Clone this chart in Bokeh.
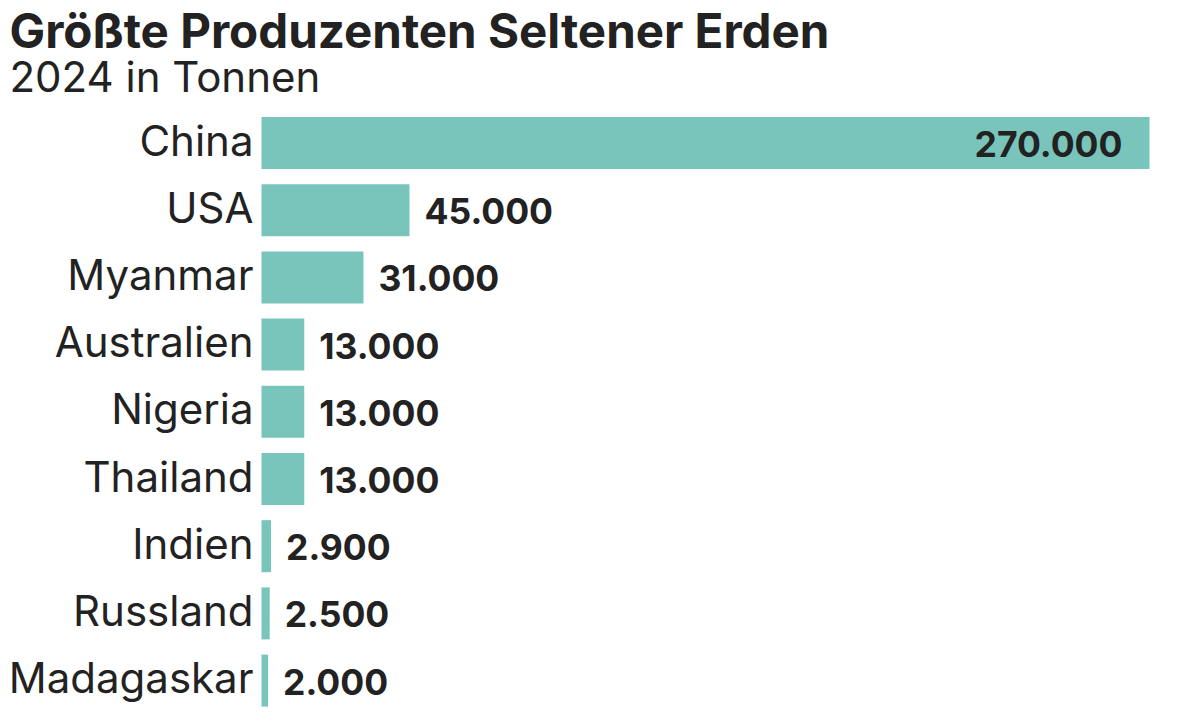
from bokeh.plotting import figure
from bokeh.models import Range1d, ColumnDataSource
from bokeh.core.properties import value
from bokeh.embed import file_html
from bokeh.resources import INLINE

# ---- data ----
countries = ["China", "USA", "Myanmar", "Australien", "Nigeria", "Thailand",
             "Indien", "Russland", "Madagaskar"]
tonnes = [270000, 45000, 31000, 13000, 13000, 13000, 2900, 2500, 2000]
title_text = "Größte Produzenten Seltener Erden"
subtitle_text = "2024 in Tonnen"

# ---- layout (pixels inside the figure) ----
W, H = 1184, 709
BAR_X0 = 261.0          # pixel where value 0 sits
BAR_XMAX = 1149.0       # pixel where the largest value ends
ROW0 = 142.5            # pixel centre of first row
ROW_STEP = 67.2         # pixel distance between rows
BAR_H = 52.0

vmax = max(tonnes)
k = (BAR_XMAX - BAR_X0) / vmax
x_start = -BAR_X0 / k
x_end = (W - BAR_X0) / k
y_top = -ROW0 / ROW_STEP
y_bottom = (H - ROW0) / ROW_STEP


def px_x(px):
    return x_start + px / k


def px_y(py):
    return (py - ROW0) / ROW_STEP


def fmt(v):
    return f"{v:,}".replace(",", ".")


idx = list(range(len(countries)))
labels = [fmt(v) for v in tonnes]
inside = [v > 0.5 * vmax for v in tonnes]

src = ColumnDataSource(dict(y=idx, v=tonnes, name=countries, lab=labels))
src_in = ColumnDataSource(dict(
    y=[i for i, f in zip(idx, inside) if f],
    v=[t for t, f in zip(tonnes, inside) if f],
    lab=[l for l, f in zip(labels, inside) if f]))
src_out = ColumnDataSource(dict(
    y=[i for i, f in zip(idx, inside) if not f],
    v=[t for t, f in zip(tonnes, inside) if not f],
    lab=[l for l, f in zip(labels, inside) if not f]))

p = figure(width=W, height=H, output_backend="svg", toolbar_location=None,
           x_range=Range1d(x_start, x_end), y_range=Range1d(y_bottom, y_top),
           x_axis_location=None, y_axis_location=None, min_border=0,
           background_fill_color="white", border_fill_color="white")
p.outline_line_color = None
p.xgrid.visible = False
p.ygrid.visible = False

TXT = "#222222"
FONT = value("Inter")

p.hbar(y="y", left=0, right="v", height=BAR_H / ROW_STEP, source=src,
       fill_color="#79c4bb", line_color=None)

p.text(x=0, y="y", text="name", source=src, x_offset=-8, y_offset=-3,
       text_align="right", text_baseline="middle", text_font=FONT,
       text_font_size="42px", text_color=TXT)

p.text(x="v", y="y", text="lab", source=src_out, x_offset=15, y_offset=1,
       text_align="left", text_baseline="middle", text_font=FONT,
       text_font_style="bold", text_font_size="35.5px", text_color=TXT)
p.text(x="v", y="y", text="lab", source=src_in, x_offset=-27, y_offset=1,
       text_align="right", text_baseline="middle", text_font=FONT,
       text_font_style="bold", text_font_size="35.5px", text_color=TXT)

p.text(x=[px_x(9)], y=[px_y(30)], text=[title_text], text_align="left",
       text_baseline="alphabetic", text_font=FONT, text_font_style="bold",
       text_font_size="47.5px", text_color=TXT)
p.text(x=[px_x(9)], y=[px_y(76)], text=[subtitle_text], text_align="left",
       text_baseline="alphabetic", text_font=FONT,
       text_font_size="42px", text_color=TXT)

open("out.html", "w").write(file_html(p, INLINE))
